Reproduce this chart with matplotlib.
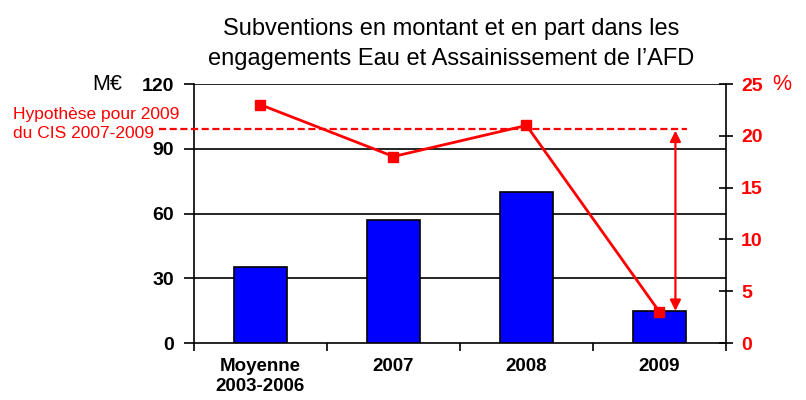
import matplotlib
matplotlib.use("Agg")
import matplotlib.pyplot as plt
import numpy as np

plt.rcParams['font.family'] = ['Liberation Sans', 'DejaVu Sans']

categories = ["Moyenne\n2003-2006", "2007", "2008", "2009"]
montant = [35, 57, 70, 15]           # M€
part = [23, 18, 21, 3]               # %
hypothese = 20.7                     # %
left_ticks = [0, 30, 60, 90, 120]
right_ticks = [0, 5, 10, 15, 20, 25]

fig = plt.figure(figsize=(8.06, 4.00), dpi=100)
ax = fig.add_axes([0.2407, 0.1425, 0.66, 0.6475])
x = np.arange(len(categories))

ax.bar(x, montant, width=0.4, color='#0000FF', edgecolor='black', linewidth=1.2, zorder=3)
ax.set_xlim(-0.5, 3.5)
ax.set_ylim(0, 120)
ax.set_yticks(left_ticks)
for v in left_ticks[1:]:
    ax.axhline(v, color='black', linewidth=1.2, zorder=1)
ax.set_xticks(x)
ax.set_xticklabels(categories, fontsize=13.5, fontweight='bold', linespacing=1.2)
ax.set_xticks(np.arange(-0.5, 4, 1), minor=True)
ax.tick_params(axis='x', which='major', length=0, pad=11)
ax.tick_params(axis='x', which='minor', length=6, width=1.2, direction='out')
ax.tick_params(axis='y', length=7, width=1.2, direction='out', labelsize=14, pad=7.5)
for lab in ax.get_yticklabels():
    lab.set_fontweight('bold')
for s in ['top', 'right']:
    ax.spines[s].set_visible(False)
ax.spines['left'].set_linewidth(1.2)
ax.spines['bottom'].set_linewidth(1.2)

ax2 = ax.twinx()
ax2.set_ylim(0, 25)
ax2.set_yticks(right_ticks)
ax2.plot(x, part, color='#FF0000', linewidth=2, marker='s', markersize=6.5, zorder=5, clip_on=False)
ax2.plot([-0.76, 3.21], [hypothese, hypothese], color='#FF0000', linewidth=1.6,
         linestyle=(0, (3.2, 1.6)), clip_on=False)
ax2.annotate('', xy=(3.12, hypothese - 0.2), xytext=(3.12, part[3] + 0.1),
             arrowprops=dict(arrowstyle='<|-|>', color='#FF0000', lw=1.6,
                             mutation_scale=16, shrinkA=0, shrinkB=0))
ax2.tick_params(axis='y', length=10, width=1.2, direction='inout', labelsize=14,
                labelcolor='#FF0000', pad=6)
for lab in ax2.get_yticklabels():
    lab.set_fontweight('bold')
for s in ['top', 'left', 'bottom']:
    ax2.spines[s].set_visible(False)
ax2.spines['right'].set_linewidth(1.2)

fig.text(0.5596, 0.89, "Subventions en montant et en part dans les\nengagements Eau et Assainissement de l’AFD",
         ha='center', va='center', fontsize=17, linespacing=1.45)
fig.text(0.115, 0.79, "M€", ha='left', va='center', fontsize=15.5)
fig.text(0.958, 0.79, "%", ha='left', va='center', fontsize=15.5, color='#FF0000')
fig.text(0.016, 0.69, "Hypothèse pour 2009\ndu CIS 2007-2009", ha='left', va='center',
         fontsize=12.5, color='#FF0000', linespacing=1.3)

fig.savefig("out.png", dpi=100)
